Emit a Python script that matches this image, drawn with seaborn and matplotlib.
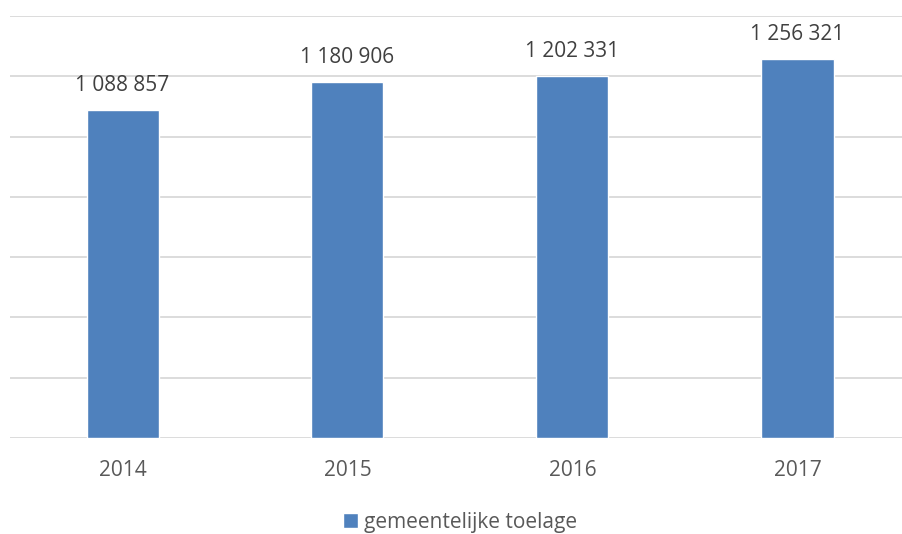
import pandas as pd
import seaborn as sns
import matplotlib
matplotlib.use('Agg')
import matplotlib.pyplot as plt

years = ['2014', '2015', '2016', '2017']
toelage = [1088857, 1180906, 1202331, 1256321]
series_name = 'gemeentelijke toelage'
grid_ticks = [0, 200000, 400000, 600000, 800000, 1000000, 1200000, 1400000]

df = pd.DataFrame({'jaar': years, 'waarde': toelage})

sns.set_style('white')
plt.rcParams['font.family'] = ['Open Sans', 'DejaVu Sans']

fig = plt.figure(figsize=(9.02, 5.34), dpi=100)
ax = fig.add_axes([10 / 902, (534 - 438) / 534, 900 / 902, (438 - 16) / 534])

blue = '#4F81BD'
sns.barplot(data=df, x='jaar', y='waarde', color=blue, width=0.32, ax=ax,
            label=series_name, saturation=1)

ax.set_ylim(0, 1400000)
ax.set_xlim(-0.5, 3.5)
ax.set_yticks(grid_ticks)
ax.yaxis.grid(True, color='#D9D9D9', linewidth=1.3)
ax.set_axisbelow(True)
ax.tick_params(axis='y', left=False, labelleft=False)
ax.tick_params(axis='x', bottom=False, labelsize=15, labelcolor='#595959', pad=12)
for s in ax.spines.values():
    s.set_visible(False)
ax.set_xlabel('')
ax.set_ylabel('')

labels = [f'{v:,}'.replace(',', ' ') for v in toelage]
ax.bar_label(ax.containers[0], labels=labels, padding=10, fontsize=15, color='#404040')

leg = ax.legend(loc='upper center', bbox_to_anchor=(0.5, -0.13), frameon=False,
                fontsize=15, handlelength=0.7, handleheight=0.7, handletextpad=0.3,
                labelcolor='#595959')

fig.savefig('out.png', dpi=100)
